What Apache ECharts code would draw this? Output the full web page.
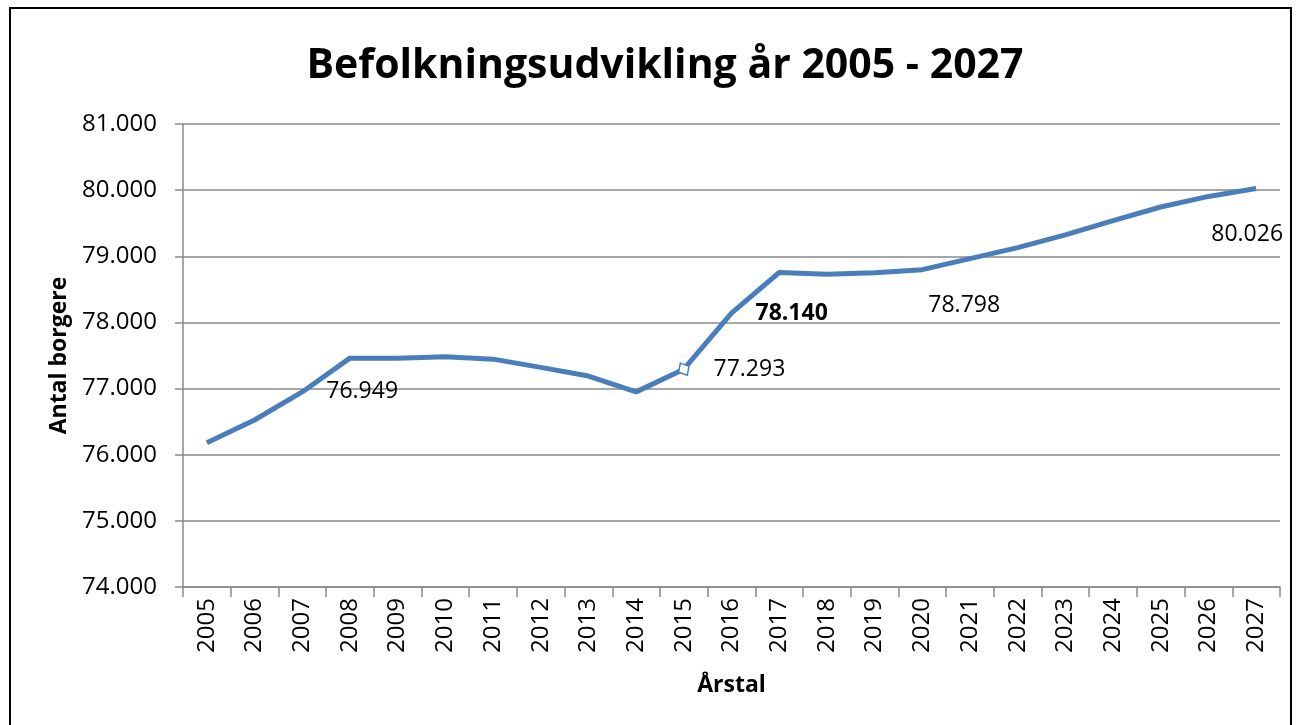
<!DOCTYPE html>
<html>
<head>
<meta charset="utf-8">
<title>Befolkningsudvikling</title>
<script src="https://cdn.jsdelivr.net/npm/echarts@6/dist/echarts.min.js"></script>
<style>
  html, body { margin: 0; padding: 0; background: #fff; }
  #chart-container { width: 1298px; height: 725px; }
</style>
</head>
<body>
<div id="chart-container"></div>
<script>
var dom = document.getElementById('chart-container');
var myChart = echarts.init(dom, null, { renderer: 'canvas' });

// data
const years = ['2005', '2006', '2007', '2008', '2009', '2010', '2011', '2012',
  '2013', '2014', '2015', '2016', '2017', '2018', '2019', '2020', '2021',
  '2022', '2023', '2024', '2025', '2026', '2027'];
const borgere = [76180, 76525, 76949, 77460, 77460, 77480, 77445, 77320,
  77190, 76950, 77293, 78140, 78755, 78730, 78750, 78798, 78965,
  79130, 79325, 79540, 79745, 79905, 80026];
const yTicks = [74000, 81000, 1000]; // min, max, step

const lineColor = '#4a7ebb';
const font = '"Open Sans", "Noto Sans", sans-serif';

// danish thousands separator: 81.000
function fmt(v) {
  return String(v).replace(/\B(?=(\d{3})+(?!\d))/g, '.');
}

// which points carry a data label, and how Excel placed them
const labelStyle = {
  '2007': { position: 'right', distance: 23 },
  '2015': { position: 'right', distance: 20 },
  '2016': { position: 'right', distance: 23, fontWeight: 'bold' },
  '2020': { position: 'right', distance: 5, offset: [0, 36] },
  '2027': { position: 'bottom', distance: 34, offset: [-9, 0] }
};

var seriesData = borgere.map(function (v, i) {
  var item = { value: v };
  var ls = labelStyle[years[i]];
  if (ls) {
    item.label = Object.assign({ show: true }, ls);
  }
  if (years[i] === '2015') {
    item.symbol = 'diamond';
    item.symbolSize = [12, 14];
    item.symbolRotate = 30;
    item.itemStyle = { color: '#fff', borderColor: lineColor, borderWidth: 1.5 };
  }
  return item;
});

var option = {
  backgroundColor: '#fff',
  animation: false,
  title: {
    text: 'Befolkningsudvikling år 2005 - 2027',
    left: 660,
    textAlign: 'center',
    top: 41,
    textStyle: {
      fontFamily: font,
      fontSize: 41,
      fontWeight: 'bold',
      color: '#000'
    }
  },
  graphic: [{
    type: 'rect',
    shape: { x: 10, y: 8, width: 1281, height: 740 },
    style: { fill: 'none', stroke: '#000', lineWidth: 2 },
    silent: true
  }],
  grid: { left: 183, right: 18, top: 124, bottom: 138 },
  xAxis: {
    type: 'category',
    data: years,
    boundaryGap: true,
    name: 'Årstal',
    nameLocation: 'middle',
    nameGap: 87,
    nameTextStyle: { fontFamily: font, fontSize: 23, fontWeight: 'bold', color: '#000' },
    axisLine: { lineStyle: { color: '#8a8a8a', width: 1.5 } },
    axisTick: { show: true, interval: 0, length: 10, lineStyle: { color: '#8a8a8a', width: 1.5 } },
    axisLabel: {
      interval: 0,
      rotate: 90,
      margin: 11,
      fontFamily: font,
      fontSize: 24,
      color: '#000'
    }
  },
  yAxis: {
    type: 'value',
    min: yTicks[0],
    max: yTicks[1],
    interval: yTicks[2],
    name: 'Antal borgere',
    nameLocation: 'middle',
    nameGap: 110,
    nameTextStyle: { fontFamily: font, fontSize: 23, fontWeight: 'bold', color: '#000' },
    axisLine: { show: true, lineStyle: { color: '#8a8a8a', width: 1.5 } },
    axisTick: { show: true, length: 8, lineStyle: { color: '#8a8a8a', width: 1.5 } },
    splitLine: { lineStyle: { color: '#8a8a8a', width: 1.5 } },
    axisLabel: {
      margin: 26,
      fontFamily: font,
      fontSize: 24,
      color: '#000',
      formatter: fmt
    }
  },
  series: [{
    name: 'Antal borgere',
    type: 'line',
    data: seriesData,
    showSymbol: true,
    symbol: 'circle',
    symbolSize: 2,
    itemStyle: { color: 'rgba(0,0,0,0)', borderWidth: 0 },
    lineStyle: { color: lineColor, width: 5 },
    label: {
      show: false,
      fontFamily: font,
      fontSize: 23,
      color: '#000',
      formatter: function (p) { return fmt(p.value); }
    }
  }]
};

myChart.setOption(option);
window.addEventListener('resize', myChart.resize);
</script>
</body>
</html>
